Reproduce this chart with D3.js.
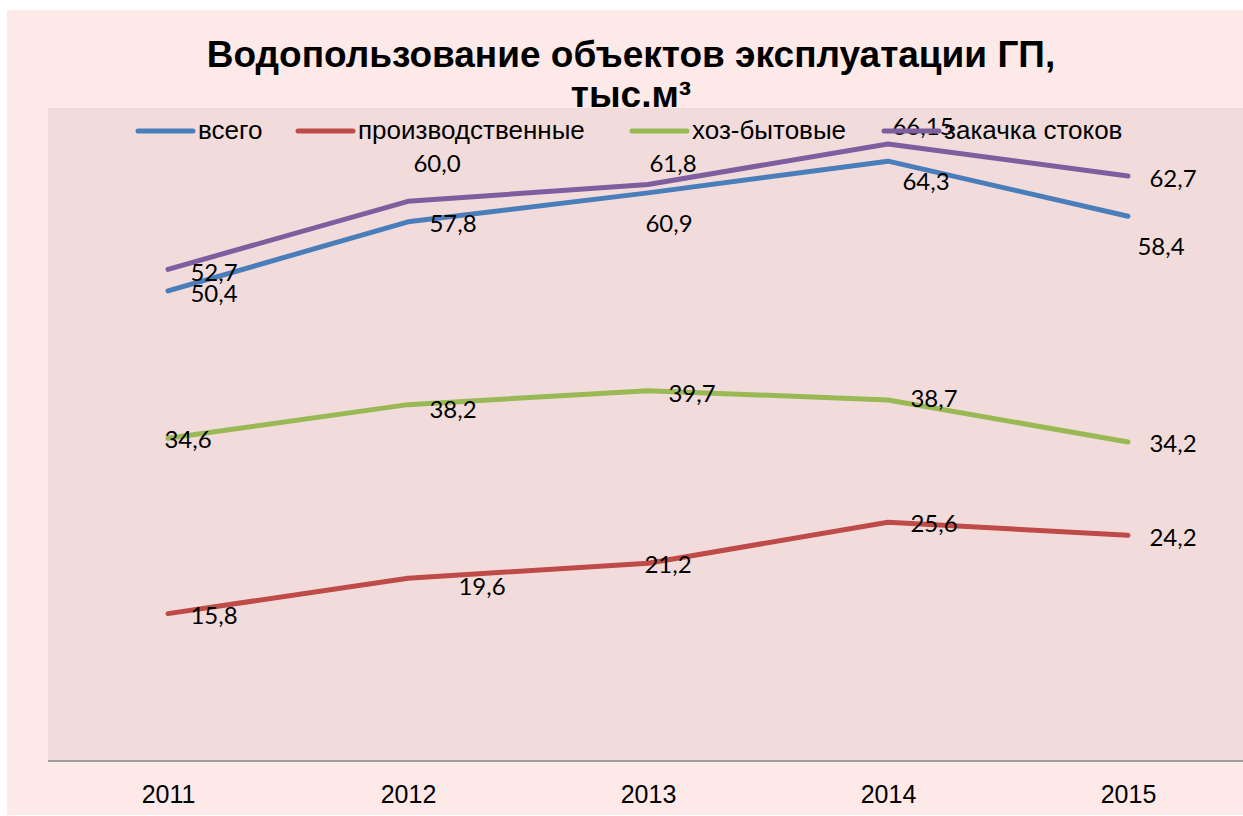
<!DOCTYPE html>
<html>
<head>
<meta charset="utf-8">
<script src="https://cdn.jsdelivr.net/npm/d3@7"></script>
<style>
  html, body { margin: 0; padding: 0; background: #ffffff; }
</style>
</head>
<body>
<div id="chart"></div>
<script>
// Водопользование объектов эксплуатации ГП

// data
var years = ["2011", "2012", "2013", "2014", "2015"];
var seriesNames = ["всего", "производственные", "хоз-бытовые", "закачка стоков"];
var vsego = [50.4, 57.8, 60.9, 64.3, 58.4];
var proizv = [15.8, 19.6, 21.2, 25.6, 24.2];
var hozByt = [34.6, 38.2, 39.7, 38.7, 34.2];
var zakachka = [52.7, 60.0, 61.8, 66.15, 62.7];
var labelsVsego = ["50,4", "57,8", "60,9", "64,3", "58,4"];
var labelsProizv = ["15,8", "19,6", "21,2", "25,6", "24,2"];
var labelsHoz = ["34,6", "38,2", "39,7", "38,7", "34,2"];
var labelsZak = ["52,7", "60,0", "61,8", "66,15", "62,7"];

// layout
var width = 1243;
var height = 816;
var colors = ["#4A7EBB", "#BE4B48", "#98B954", "#7D5FA0"];

// label offsets (centre of text relative to the point), as placed in the original
var labelOffsets = [
    [[46, 2], [45, 1], [21, 30], [38, 19], [33, 29]],
    [[46, 1], [74, 7], [20, 0], [46, 0], [45, 1]],
    [[20, 0], [45, 4], [44, 2], [46, -2], [45, 1]],
    [[46, 2], [29, -39], [25, -22], [35, -18], [45, 1]]
];

var series = [
    { name: seriesNames[0], values: vsego, labels: labelsVsego },
    { name: seriesNames[1], values: proizv, labels: labelsProizv },
    { name: seriesNames[2], values: hozByt, labels: labelsHoz },
    { name: seriesNames[3], values: zakachka, labels: labelsZak }
];

var svg = d3.select("#chart")
            .append("svg")
            .attr("width", width)
            .attr("height", height)
            .style("display", "block");

// outer chart area
svg.append("rect")
   .attr("x", 7).attr("y", 10)
   .attr("width", width - 7).attr("height", 805)
   .attr("fill", "#FDE9E8");

// title (second line sits partly under the plot area, as in the original)
var title = svg.append("text")
   .attr("text-anchor", "middle")
   .attr("font-family", "Liberation Sans, Arial, sans-serif")
   .attr("font-weight", "bold")
   .attr("font-size", 37)
   .attr("fill", "#000");
title.append("tspan").attr("x", 631).attr("y", 67).text("Водопользование объектов эксплуатации ГП,");
title.append("tspan").attr("x", 631).attr("y", 107).text("тыс.м³");

// plot area
var plotLeft = 48, plotRight = 1248, plotTop = 108, plotBottom = 761;

svg.append("rect")
   .attr("x", plotLeft).attr("y", plotTop)
   .attr("width", width - plotLeft).attr("height", plotBottom - plotTop)
   .attr("fill", "#F2DCDB");

var x = d3.scalePoint()
          .domain(years)
          .range([plotLeft, plotRight])
          .padding(0.5);

var y = d3.scaleLinear()
          .domain([0, 70])
          .range([plotBottom, plotTop]);

// x axis
var xAxis = svg.append("g")
   .attr("transform", "translate(0," + plotBottom + ")")
   .attr("font-family", "Liberation Sans, Arial, sans-serif")
   .call(d3.axisBottom(x).tickSize(0).tickPadding(24));
xAxis.select(".domain").remove();
xAxis.selectAll("text")
     .style("font-family", "'Liberation Sans', Arial, sans-serif")
     .style("font-size", "25px")
     .attr("fill", "#000");

svg.append("line")
   .attr("x1", plotLeft).attr("x2", width)
   .attr("y1", plotBottom).attr("y2", plotBottom)
   .attr("stroke", "#9E9E9E")
   .attr("stroke-width", 2);

// lines
var line = d3.line()
             .x(function(d, i) { return x(years[i]); })
             .y(function(d) { return y(d); });

svg.append("g")
   .selectAll("path")
   .data(series)
   .enter()
   .append("path")
   .attr("d", function(d) { return line(d.values); })
   .attr("fill", "none")
   .attr("stroke", function(d, i) { return colors[i]; })
   .attr("stroke-width", 5)
   .attr("stroke-linecap", "round")
   .attr("stroke-linejoin", "round");

// data labels
series.forEach(function(s, si) {
    svg.append("g")
       .selectAll("text")
       .data(s.values)
       .enter()
       .append("text")
       .attr("x", function(d, i) { return x(years[i]) + labelOffsets[si][i][0]; })
       .attr("y", function(d, i) { return y(d) + labelOffsets[si][i][1]; })
       .attr("text-anchor", "middle")
       .attr("dominant-baseline", "central")
       .attr("font-family", "Lato, Carlito, sans-serif")
       .attr("font-size", 24)
       .attr("fill", "#000")
       .text(function(d, i) { return s.labels[i]; });
});

// legend
var legendX = [138, 298, 632, 884];
var legend = svg.append("g");
var items = legend.selectAll("g")
   .data(series)
   .enter()
   .append("g")
   .attr("transform", function(d, i) { return "translate(" + legendX[i] + ",131)"; });
items.append("line")
     .attr("x1", 0).attr("x2", 55)
     .attr("stroke", function(d, i) { return colors[i]; })
     .attr("stroke-width", 5)
     .attr("stroke-linecap", "round");
items.append("text")
     .attr("x", 60)
     .attr("y", 8)
     .attr("font-family", "Liberation Sans, Arial, sans-serif")
     .attr("font-size", 26)
     .attr("fill", "#000")
     .text(function(d) { return d.name; });
</script>
</body>
</html>
